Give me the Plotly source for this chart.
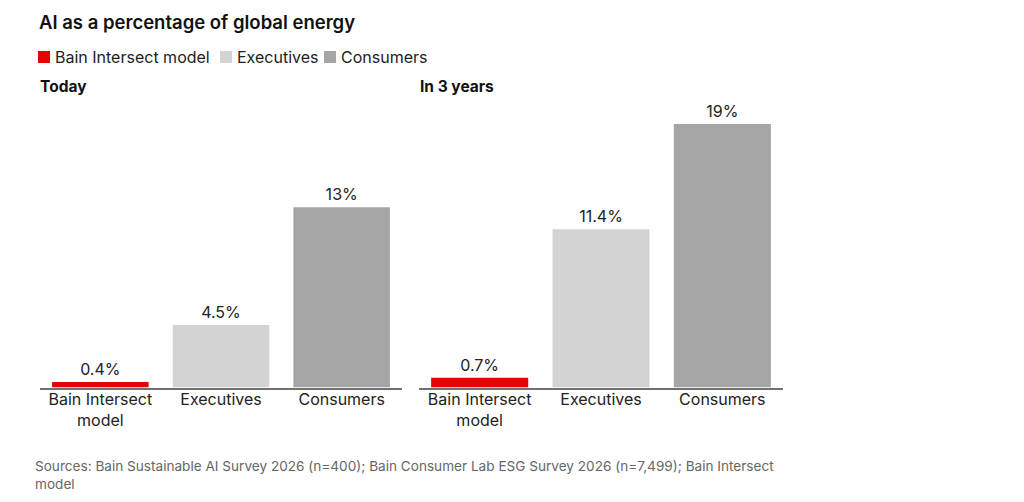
import plotly.graph_objects as go

W, H = 1024, 502
OFF = 8  # page body margin

categories = ['Bain Intersect<br>model', 'Executives', 'Consumers']
series = ['Bain Intersect model', 'Executives', 'Consumers']
colors = ['#e10600', '#d3d3d3', '#a5a5a5']

today = [0.4, 4.5, 13]
today_labels = ['0.4%', '4.5%', '13%']
in_3_years = [0.7, 11.4, 19]
in_3_years_labels = ['0.7%', '11.4%', '19%']

font = 'Inter, Roboto, sans-serif'


def px(x):
    return (x - OFF) / W


def py(y):
    return 1 - (y - OFF) / H


fig = go.Figure()

for panel, (vals, labels) in enumerate([(today, today_labels), (in_3_years, in_3_years_labels)]):
    xa = 'x' if panel == 0 else 'x2'
    ya = 'y' if panel == 0 else 'y2'
    for i, name in enumerate(series):
        fig.add_trace(go.Bar(
            x=[categories[i]], y=[vals[i]], name=name,
            marker=dict(color=colors[i], line=dict(width=0)),
            text=[labels[i]], textposition='outside', cliponaxis=False,
            textfont=dict(size=16, color='#222222', family=font),
            showlegend=False, xaxis=xa, yaxis=ya,
        ))

axis_x = dict(showgrid=False, zeroline=False, showline=True, linecolor='#707070', linewidth=2,
              ticks='', ticklabelstandoff=-4, tickfont=dict(size=16, color='#222222', family=font),
              categoryorder='array', categoryarray=categories, fixedrange=True)
axis_y = dict(range=[0, 20], showgrid=False, zeroline=False, showline=False,
              showticklabels=False, fixedrange=True)

fig.update_layout(
    width=W, height=H,
    margin=dict(l=0, r=0, t=0, b=0),
    paper_bgcolor='white', plot_bgcolor='white',
    barmode='overlay', bargap=0.2,
    font=dict(family=font, color='#222222'),
    xaxis=dict(axis_x, domain=[px(40), px(402)], anchor='y'),
    xaxis2=dict(axis_x, domain=[px(419), px(783)], anchor='y2'),
    yaxis=dict(axis_y, domain=[py(387.5), py(110)], anchor='x'),
    yaxis2=dict(axis_y, domain=[py(387.5), py(110)], anchor='x2'),
    showlegend=False,
)

# legend drawn as squares + labels
legend_x = [38, 220, 324]
for name, color, lx in zip(series, colors, legend_x):
    fig.add_shape(type='rect', xref='paper', yref='paper',
                  x0=px(lx), x1=px(lx + 12), y0=py(63), y1=py(51),
                  fillcolor=color, line=dict(width=0))
    fig.add_annotation(text=name, xref='paper', yref='paper',
                       x=px(lx + 15), y=py(57), xanchor='left', yanchor='middle', showarrow=False,
                       font=dict(size=16, color='#222222', family=font))

fig.add_annotation(text='AI as a percentage of global energy', xref='paper', yref='paper',
                   x=px(37), y=py(22), xanchor='left', yanchor='middle', showarrow=False,
                   font=dict(size=18.5, color='#111111', family=font, weight=600))
fig.add_annotation(text='<b>Today</b>', xref='paper', yref='paper',
                   x=px(38), y=py(87), xanchor='left', yanchor='middle', showarrow=False,
                   font=dict(size=15.5, color='#111111', family=font))
fig.add_annotation(text='<b>In 3 years</b>', xref='paper', yref='paper',
                   x=px(418), y=py(87), xanchor='left', yanchor='middle', showarrow=False,
                   font=dict(size=15.5, color='#111111', family=font))
fig.add_annotation(text='Sources: Bain Sustainable AI Survey 2026 (n=400); Bain Consumer Lab ESG Survey 2026 (n=7,499); Bain Intersect<br>model',
                   xref='paper', yref='paper', x=px(33), y=py(475), xanchor='left', yanchor='middle',
                   align='left', showarrow=False,
                   font=dict(size=13.6, color='#666666', family=font))

fig.write_html('out.html')
